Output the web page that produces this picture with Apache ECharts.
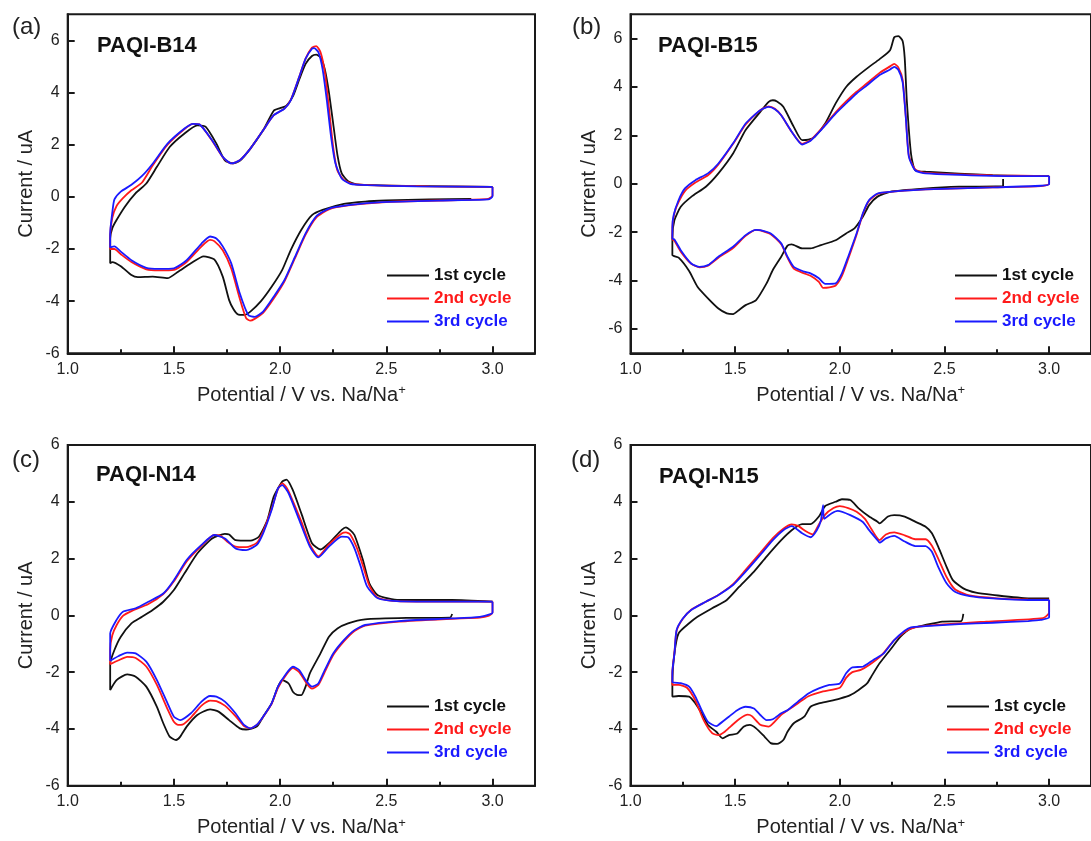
<!DOCTYPE html>
<html>
<head>
<meta charset="utf-8">
<script src="https://cdn.jsdelivr.net/npm/echarts@6/dist/echarts.min.js"></script>
<style>
  html, body { margin: 0; padding: 0; background: #fff; }
  #chart { width: 1091px; height: 841px; }
</style>
</head>
<body>
<div id="chart"></div>
<script>
// ---- names / ticks ----
const panelLabels = ['(a)', '(b)', '(c)', '(d)']
const sampleNames = ['PAQI-B14', 'PAQI-B15', 'PAQI-N14', 'PAQI-N15']
const cycleNames = ['1st cycle', '2nd cycle', '3rd cycle']
const xMajorTicks = [1.0, 1.5, 2.0, 2.5, 3.0]
const xMinorTicks = [1.25, 1.75, 2.25, 2.75]
const yTicks = [-6, -4, -2, 0, 2, 4, 6]

// ---- (a) PAQI-B14, [potential V, current uA] ----
const b14Cycle1 = [
  [2.90,-0.08],[2.70,-0.10],[2.50,-0.14],[2.40,-0.18],[2.30,-0.27],[2.20,-0.50],[2.15,-0.70],[2.10,-1.26],
  [2.05,-2.04],[2.01,-2.80],[1.96,-3.45],[1.91,-4.00],[1.86,-4.40],[1.83,-4.53],[1.80,-4.50],[1.78,-4.30],
  [1.76,-3.96],[1.73,-3.06],[1.69,-2.40],[1.64,-2.28],[1.58,-2.55],[1.52,-2.87],[1.47,-3.12],[1.40,-3.06],
  [1.33,-3.08],[1.30,-3.00],[1.25,-2.66],[1.21,-2.50],[1.20,-2.55],
  [1.20,-1.60],[1.21,-1.20],[1.23,-0.89],[1.27,-0.37],[1.32,0.14],[1.37,0.51],[1.42,1.15],[1.48,1.91],
  [1.55,2.43],[1.61,2.74],[1.65,2.68],[1.70,2.04],[1.74,1.40],[1.78,1.28],[1.81,1.38],[1.86,1.85],
  [1.92,2.55],[1.97,3.30],[2.00,3.40],[2.03,3.50],[2.06,3.85],[2.09,4.50],[2.12,5.10],[2.15,5.40],
  [2.17,5.45],[2.19,5.35],[2.21,4.90],[2.23,4.00],[2.25,2.80],[2.27,1.60],[2.29,0.90],[2.32,0.60],
  [2.36,0.48],[2.60,0.42],[3.00,0.38]
]
const b14Cycle2 = [
  [3.00,0.38],[3.00,0.05],[2.98,-0.08],[2.80,-0.13],[2.60,-0.17],[2.48,-0.21],[2.32,-0.33],[2.23,-0.48],
  [2.17,-0.80],[2.12,-1.45],[2.07,-2.35],[2.02,-3.25],[1.97,-3.90],[1.92,-4.45],[1.88,-4.68],[1.86,-4.75],
  [1.84,-4.65],[1.81,-3.90],[1.77,-2.75],[1.73,-2.05],[1.69,-1.70],[1.67,-1.65],[1.63,-1.90],[1.56,-2.50],
  [1.50,-2.80],[1.43,-2.82],[1.37,-2.78],[1.30,-2.50],[1.25,-2.20],[1.22,-2.00],[1.20,-2.00],
  [1.20,-1.50],[1.21,-0.80],[1.23,-0.35],[1.26,-0.05],[1.30,0.25],[1.35,0.55],[1.40,1.20],[1.47,2.00],
  [1.55,2.60],[1.59,2.80],[1.62,2.78],[1.68,2.15],[1.73,1.52],[1.77,1.28],[1.81,1.40],[1.86,1.85],
  [1.92,2.55],[1.97,3.13],[2.02,3.38],[2.05,3.72],[2.09,4.60],[2.12,5.30],[2.15,5.72],[2.17,5.78],
  [2.19,5.55],[2.21,4.80],[2.23,3.40],[2.25,1.90],[2.27,1.00],[2.30,0.65],[2.34,0.50],[2.45,0.44],
  [2.70,0.40],[3.00,0.38]
]
const b14Cycle3 = [
  [3.00,0.38],[3.00,0.02],[2.98,-0.10],[2.81,-0.13],[2.48,-0.20],[2.32,-0.32],[2.23,-0.45],[2.17,-0.75],
  [2.12,-1.40],[2.07,-2.30],[2.02,-3.20],[1.97,-3.83],[1.92,-4.40],[1.88,-4.60],[1.85,-4.53],[1.81,-3.70],
  [1.77,-2.55],[1.73,-1.90],[1.70,-1.60],[1.67,-1.52],[1.63,-1.79],[1.56,-2.43],[1.50,-2.74],[1.43,-2.76],
  [1.37,-2.72],[1.30,-2.43],[1.25,-2.10],[1.22,-1.90],[1.20,-1.94],
  [1.20,-1.40],[1.21,-0.60],[1.22,-0.10],[1.25,0.20],[1.30,0.46],[1.35,0.80],[1.40,1.27],[1.47,2.04],
  [1.55,2.62],[1.59,2.80],[1.62,2.78],[1.68,2.17],[1.73,1.53],[1.77,1.28],[1.81,1.40],[1.86,1.85],
  [1.92,2.55],[1.97,3.13],[2.02,3.38],[2.05,3.70],[2.09,4.60],[2.12,5.30],[2.15,5.68],[2.16,5.70],
  [2.18,5.55],[2.20,4.90],[2.22,3.70],[2.24,2.30],[2.26,1.30],[2.29,0.70],[2.33,0.50],[2.41,0.45],
  [2.64,0.40],[3.00,0.38]
]

// ---- (b) PAQI-B15 ----
const b15Cycle1 = [
  [2.78,0.20],[2.78,-0.10],[2.57,-0.12],[2.40,-0.20],[2.24,-0.33],[2.18,-0.53],[2.14,-0.88],[2.11,-1.36],
  [2.07,-1.84],[2.03,-2.05],[1.98,-2.33],[1.91,-2.53],[1.86,-2.67],[1.82,-2.67],[1.77,-2.50],[1.75,-2.55],
  [1.72,-3.01],[1.68,-3.56],[1.65,-4.11],[1.60,-4.80],[1.55,-5.01],[1.52,-5.20],[1.49,-5.38],[1.46,-5.35],
  [1.42,-5.15],[1.37,-4.73],[1.32,-4.25],[1.28,-3.60],[1.23,-3.05],[1.20,-2.94],
  [1.20,-2.20],[1.21,-1.50],[1.24,-0.95],[1.29,-0.54],[1.36,-0.12],[1.42,0.43],[1.49,1.25],[1.55,2.22],
  [1.62,2.97],[1.66,3.38],[1.68,3.45],[1.70,3.40],[1.73,3.18],[1.78,2.35],[1.82,1.80],[1.85,1.82],
  [1.88,1.94],[1.93,2.49],[1.98,3.32],[2.03,4.00],[2.08,4.42],[2.14,4.83],[2.19,5.15],[2.24,5.52],
  [2.26,6.05],[2.28,6.10],[2.30,5.90],[2.31,5.20],[2.32,3.45],[2.34,1.25],[2.36,0.56],[2.41,0.50],
  [2.73,0.36],[3.00,0.32]
]
const b15Cycle2 = [
  [3.00,0.32],[3.00,0.00],[2.96,-0.10],[2.73,-0.15],[2.41,-0.23],[2.24,-0.33],[2.18,-0.42],[2.14,-0.70],
  [2.11,-1.25],[2.08,-2.10],[2.04,-3.10],[2.01,-3.80],[1.98,-4.20],[1.95,-4.28],[1.92,-4.30],[1.90,-4.05],
  [1.86,-3.80],[1.83,-3.70],[1.78,-3.50],[1.75,-3.05],[1.72,-2.50],[1.67,-2.08],[1.62,-1.92],[1.60,-1.90],
  [1.55,-2.15],[1.49,-2.65],[1.42,-3.05],[1.37,-3.38],[1.33,-3.45],[1.29,-3.30],[1.24,-2.80],[1.21,-2.35],
  [1.20,-2.30],
  [1.20,-1.80],[1.21,-1.20],[1.23,-0.75],[1.26,-0.30],[1.31,0.05],[1.37,0.35],[1.42,0.80],[1.49,1.65],
  [1.55,2.45],[1.62,3.04],[1.66,3.20],[1.69,3.10],[1.72,2.83],[1.77,2.15],[1.82,1.65],[1.86,1.80],
  [1.91,2.25],[1.98,2.95],[2.03,3.40],[2.08,3.80],[2.13,4.15],[2.19,4.58],[2.24,4.85],[2.26,4.95],
  [2.28,4.80],[2.30,4.30],[2.315,2.80],[2.33,1.15],[2.36,0.60],[2.41,0.45],[2.73,0.35],[3.00,0.32]
]
const b15Cycle3 = [
  [3.00,0.32],[3.00,-0.02],[2.96,-0.08],[2.73,-0.15],[2.41,-0.23],[2.24,-0.33],[2.18,-0.40],[2.14,-0.67],
  [2.11,-1.22],[2.08,-2.05],[2.04,-3.01],[2.01,-3.70],[1.98,-4.11],[1.93,-4.13],[1.90,-3.90],[1.86,-3.70],
  [1.83,-3.63],[1.78,-3.43],[1.75,-3.01],[1.72,-2.46],[1.67,-2.05],[1.62,-1.91],[1.60,-1.90],[1.55,-2.12],
  [1.49,-2.60],[1.42,-3.01],[1.37,-3.36],[1.33,-3.43],[1.29,-3.29],[1.24,-2.74],[1.21,-2.30],[1.20,-2.26],
  [1.20,-1.80],[1.206,-1.30],[1.23,-0.67],[1.26,-0.19],[1.31,0.15],[1.37,0.43],[1.42,0.84],[1.49,1.67],
  [1.55,2.49],[1.62,3.04],[1.66,3.18],[1.69,3.08],[1.72,2.83],[1.77,2.15],[1.82,1.62],[1.86,1.78],
  [1.91,2.22],[1.98,2.90],[2.03,3.32],[2.08,3.73],[2.13,4.07],[2.19,4.49],[2.24,4.72],[2.26,4.83],
  [2.28,4.70],[2.30,4.20],[2.315,2.77],[2.33,1.11],[2.36,0.56],[2.41,0.43],[2.73,0.33],[3.00,0.32]
]

// ---- (c) PAQI-N14 ----
const n14Cycle1 = [
  [2.81,0.05],[2.80,-0.08],[2.60,-0.09],[2.40,-0.14],[2.32,-0.28],[2.27,-0.46],[2.23,-0.75],[2.19,-1.34],
  [2.14,-2.04],[2.12,-2.51],[2.10,-2.81],[2.08,-2.80],[2.06,-2.69],[2.04,-2.40],[2.01,-2.28],[1.99,-2.51],
  [1.96,-3.10],[1.92,-3.57],[1.89,-3.92],[1.84,-4.02],[1.81,-3.98],[1.76,-3.69],[1.71,-3.39],[1.67,-3.31],
  [1.61,-3.51],[1.56,-3.92],[1.53,-4.27],[1.51,-4.39],[1.48,-4.27],[1.45,-3.80],[1.42,-3.22],[1.37,-2.51],
  [1.32,-2.16],[1.28,-2.08],[1.23,-2.28],[1.20,-2.63],
  [1.20,-1.70],[1.22,-1.22],[1.25,-0.75],[1.30,-0.28],[1.35,-0.05],[1.40,0.19],[1.45,0.48],[1.50,0.89],
  [1.55,1.48],[1.61,2.18],[1.68,2.71],[1.74,2.87],[1.76,2.85],[1.79,2.65],[1.86,2.63],[1.90,2.77],
  [1.94,3.36],[1.97,4.18],[2.01,4.71],[2.03,4.78],[2.06,4.41],[2.10,3.59],[2.15,2.54],[2.19,2.32],
  [2.23,2.54],[2.29,3.01],[2.31,3.10],[2.33,3.00],[2.35,2.83],[2.39,1.95],[2.42,1.13],[2.46,0.71],
  [2.56,0.54],[2.81,0.54],[3.00,0.48]
]
const n14Cycle2 = [
  [3.00,0.48],[3.00,0.10],[2.98,-0.02],[2.94,-0.08],[2.81,-0.12],[2.56,-0.22],[2.40,-0.36],[2.35,-0.55],
  [2.30,-0.92],[2.25,-1.40],[2.21,-2.00],[2.18,-2.45],[2.15,-2.58],[2.13,-2.45],[2.09,-2.00],[2.06,-1.86],
  [2.03,-2.08],[1.99,-2.55],[1.96,-3.12],[1.92,-3.58],[1.89,-3.86],[1.86,-3.98],[1.83,-3.90],[1.79,-3.55],
  [1.74,-3.18],[1.70,-3.02],[1.67,-3.00],[1.63,-3.18],[1.58,-3.60],[1.54,-3.85],[1.52,-3.86],[1.50,-3.75],
  [1.47,-3.30],[1.42,-2.45],[1.37,-1.80],[1.32,-1.50],[1.28,-1.46],[1.24,-1.58],[1.20,-1.72],
  [1.20,-1.20],[1.21,-0.70],[1.23,-0.35],[1.26,-0.02],[1.30,0.15],[1.38,0.40],[1.45,0.75],[1.50,1.20],
  [1.56,1.90],[1.63,2.45],[1.69,2.83],[1.72,2.80],[1.75,2.60],[1.79,2.42],[1.84,2.40],[1.89,2.55],
  [1.92,2.95],[1.96,3.75],[1.99,4.45],[2.01,4.65],[2.03,4.50],[2.05,4.20],[2.10,3.30],[2.14,2.50],
  [2.18,2.08],[2.23,2.50],[2.29,2.88],[2.31,2.92],[2.33,2.85],[2.36,2.40],[2.39,1.75],[2.42,1.05],
  [2.46,0.62],[2.55,0.50],[2.81,0.48],[3.00,0.48]
]
const n14Cycle3 = [
  [3.00,0.48],[3.00,0.10],[2.99,0.04],[2.94,-0.05],[2.81,-0.11],[2.56,-0.20],[2.40,-0.34],[2.35,-0.52],
  [2.30,-0.87],[2.25,-1.34],[2.21,-1.93],[2.18,-2.40],[2.15,-2.51],[2.12,-2.28],[2.09,-1.93],[2.06,-1.81],
  [2.03,-2.04],[1.99,-2.51],[1.96,-3.10],[1.92,-3.57],[1.89,-3.86],[1.86,-3.98],[1.83,-3.86],[1.79,-3.45],
  [1.74,-3.04],[1.70,-2.86],[1.67,-2.84],[1.63,-3.04],[1.58,-3.45],[1.53,-3.69],[1.50,-3.57],[1.47,-3.10],
  [1.42,-2.28],[1.37,-1.63],[1.32,-1.34],[1.28,-1.31],[1.24,-1.43],[1.20,-1.60],
  [1.20,-1.10],[1.20,-0.64],[1.23,-0.16],[1.26,0.13],[1.32,0.25],[1.38,0.48],[1.45,0.77],[1.50,1.24],
  [1.56,1.95],[1.63,2.48],[1.69,2.83],[1.74,2.71],[1.79,2.36],[1.84,2.30],[1.89,2.48],[1.92,2.89],
  [1.96,3.71],[1.99,4.47],[2.01,4.59],[2.04,4.30],[2.09,3.36],[2.14,2.42],[2.18,2.04],[2.23,2.42],
  [2.29,2.77],[2.32,2.75],[2.35,2.36],[2.38,1.71],[2.41,1.01],[2.46,0.60],[2.55,0.50],[2.81,0.48],
  [3.00,0.48]
]

// ---- (d) PAQI-N15 ----
const n15Cycle1 = [
  [2.59,0.05],[2.58,-0.20],[2.49,-0.22],[2.41,-0.34],[2.34,-0.46],[2.29,-0.75],[2.24,-1.22],[2.19,-1.69],
  [2.15,-2.16],[2.13,-2.40],[2.09,-2.63],[2.05,-2.81],[2.00,-2.93],[1.95,-3.02],[1.90,-3.10],[1.86,-3.22],
  [1.83,-3.57],[1.78,-3.80],[1.75,-4.10],[1.73,-4.39],[1.70,-4.53],[1.67,-4.50],[1.64,-4.27],[1.60,-3.98],
  [1.57,-3.86],[1.54,-3.92],[1.51,-4.16],[1.47,-4.22],[1.44,-4.33],[1.41,-4.10],[1.37,-3.86],[1.34,-3.45],
  [1.31,-3.10],[1.28,-2.86],[1.23,-2.84],[1.20,-2.86],
  [1.20,-2.40],[1.21,-1.34],[1.23,-0.63],[1.28,-0.28],[1.32,-0.05],[1.39,0.25],[1.46,0.54],[1.52,1.01],
  [1.59,1.54],[1.65,2.07],[1.72,2.65],[1.77,3.00],[1.82,3.21],[1.86,3.21],[1.90,3.48],[1.93,3.85],
  [1.98,4.00],[2.01,4.09],[2.05,4.06],[2.09,3.77],[2.14,3.48],[2.18,3.30],[2.19,3.24],[2.23,3.48],
  [2.26,3.53],[2.31,3.48],[2.36,3.30],[2.41,3.12],[2.44,2.89],[2.47,2.42],[2.51,1.71],[2.54,1.24],
  [2.59,0.95],[2.65,0.80],[2.73,0.72],[2.90,0.60],[3.00,0.60]
]
const n15Cycle2 = [
  [3.00,0.55],[3.00,0.10],[2.97,-0.10],[2.70,-0.22],[2.40,-0.38],[2.33,-0.50],[2.26,-0.87],[2.20,-1.40],
  [2.14,-1.75],[2.10,-1.92],[2.06,-2.00],[2.03,-2.20],[2.00,-2.55],[1.92,-2.68],[1.85,-2.85],[1.78,-3.20],
  [1.72,-3.50],[1.66,-3.92],[1.62,-3.85],[1.58,-3.55],[1.56,-3.50],[1.52,-3.65],[1.48,-3.90],[1.45,-4.10],
  [1.42,-4.22],[1.39,-4.15],[1.35,-3.70],[1.31,-3.00],[1.27,-2.55],[1.23,-2.45],[1.20,-2.45],
  [1.20,-2.00],[1.21,-1.30],[1.22,-0.55],[1.25,-0.12],[1.29,0.20],[1.36,0.48],[1.42,0.72],[1.49,1.10],
  [1.55,1.60],[1.62,2.20],[1.68,2.72],[1.73,3.05],[1.77,3.20],[1.80,3.15],[1.84,2.95],[1.87,2.85],
  [1.90,3.20],[1.93,3.55],[1.97,3.78],[2.00,3.85],[2.04,3.78],[2.08,3.65],[2.12,3.40],[2.15,3.05],
  [2.19,2.65],[2.22,2.85],[2.26,2.92],[2.31,2.82],[2.36,2.68],[2.41,2.68],[2.44,2.45],[2.47,2.00],
  [2.51,1.35],[2.55,0.92],[2.62,0.70],[2.75,0.60],[2.90,0.56],[3.00,0.55]
]
const n15Cycle3 = [
  [3.00,0.54],[3.00,-0.07],[2.96,-0.16],[2.90,-0.20],[2.73,-0.26],[2.57,-0.31],[2.41,-0.38],[2.34,-0.42],
  [2.31,-0.54],[2.26,-0.87],[2.21,-1.34],[2.16,-1.57],[2.11,-1.81],[2.06,-1.83],[2.03,-2.04],[2.00,-2.40],
  [1.95,-2.45],[1.90,-2.57],[1.85,-2.75],[1.80,-3.04],[1.75,-3.34],[1.72,-3.45],[1.68,-3.66],[1.65,-3.69],
  [1.62,-3.51],[1.59,-3.28],[1.55,-3.22],[1.51,-3.34],[1.47,-3.57],[1.42,-3.86],[1.41,-3.90],[1.37,-3.75],
  [1.34,-3.34],[1.31,-2.86],[1.28,-2.51],[1.24,-2.39],[1.20,-2.35],
  [1.20,-2.00],[1.21,-1.34],[1.22,-0.52],[1.25,-0.11],[1.29,0.19],[1.36,0.48],[1.42,0.72],[1.49,1.07],
  [1.55,1.54],[1.62,2.13],[1.68,2.65],[1.73,3.00],[1.77,3.14],[1.82,2.89],[1.86,2.75],[1.89,3.00],
  [1.91,3.35],[1.92,3.88],[1.925,3.40],[1.96,3.59],[1.99,3.68],[2.05,3.53],[2.11,3.29],[2.14,3.00],
  [2.18,2.65],[2.19,2.56],[2.22,2.71],[2.26,2.80],[2.31,2.60],[2.36,2.44],[2.41,2.44],[2.44,2.24],
  [2.47,1.71],[2.51,1.13],[2.55,0.83],[2.62,0.68],[2.73,0.60],[2.90,0.54],[3.00,0.54]
]

// ---- layout (px) ----
const FONT = '"Liberation Sans", Arial, sans-serif'
const cycleColors = ['#111111', '#ff1a1a', '#1a1aff']
const panels = [
  { cycles: [b14Cycle1, b14Cycle2, b14Cycle3], yMin: -6, yMax: 7,
    grid: { left: 67.7, top: 14.3, width: 467.3, height: 339 },
    labelPos: [12, 15], namePos: [97, 35], legendPos: [387, 267] },
  { cycles: [b15Cycle1, b15Cycle2, b15Cycle3], yMin: -7, yMax: 7,
    grid: { left: 630.5, top: 14.3, width: 466.4, height: 339 },
    labelPos: [572, 15], namePos: [658, 35], legendPos: [955, 267] },
  { cycles: [n14Cycle1, n14Cycle2, n14Cycle3], yMin: -6, yMax: 6,
    grid: { left: 67.7, top: 445, width: 467.3, height: 340.7 },
    labelPos: [12, 448], namePos: [96, 464], legendPos: [387, 698] },
  { cycles: [n15Cycle1, n15Cycle2, n15Cycle3], yMin: -6, yMax: 6,
    grid: { left: 630.5, top: 445, width: 466.4, height: 340.7 },
    labelPos: [571, 448], namePos: [659, 466], legendPos: [947, 698] },
]

const AXIS_COLOR = '#1a1a1a'
const grids = [], xAxes = [], yAxes = [], series = [], legends = [], titles = []

panels.forEach((p, i) => {
  grids.push({ ...p.grid, show: true, borderColor: AXIS_COLOR, borderWidth: 2, backgroundColor: 'transparent' })

  // major x axis (labels + long ticks)
  xAxes.push({
    type: 'value', gridIndex: i, min: 1.0, max: 3.2, position: 'bottom',
    name: 'Potential / V vs. Na/Na{sup|+}', nameLocation: 'middle', nameGap: 31,
    nameTextStyle: {
      fontFamily: FONT, fontSize: 20, color: '#222', lineHeight: 22,
      rich: { sup: { fontFamily: FONT, fontSize: 13, color: '#222', verticalAlign: 'top', lineHeight: 13 } },
    },
    axisLine: { show: true, onZero: false, lineStyle: { color: AXIS_COLOR, width: 2 } },
    axisTick: { show: true, inside: true, length: 7, customValues: xMajorTicks, lineStyle: { color: AXIS_COLOR, width: 2 } },
    axisLabel: { customValues: xMajorTicks, formatter: (v) => v.toFixed(1), fontFamily: FONT, fontSize: 16, color: '#222', margin: 8 },
    splitLine: { show: false },
  })
  // minor x ticks
  xAxes.push({
    type: 'value', gridIndex: i, min: 1.0, max: 3.2, position: 'bottom',
    axisLine: { show: false, onZero: false },
    axisTick: { show: true, inside: true, length: 4, customValues: xMinorTicks, lineStyle: { color: AXIS_COLOR, width: 2 } },
    axisLabel: { show: false },
    splitLine: { show: false },
  })
  yAxes.push({
    type: 'value', gridIndex: i, min: p.yMin, max: p.yMax, position: 'left',
    name: 'Current / uA', nameLocation: 'middle', nameGap: 31,
    nameTextStyle: { fontFamily: FONT, fontSize: 20, color: '#222' },
    axisLine: { show: true, onZero: false, lineStyle: { color: AXIS_COLOR, width: 2 } },
    axisTick: { show: true, inside: true, length: 7, customValues: yTicks, lineStyle: { color: AXIS_COLOR, width: 2 } },
    axisLabel: { customValues: yTicks, fontFamily: FONT, fontSize: 16, color: '#222', margin: 8 },
    splitLine: { show: false },
  })

  p.cycles.forEach((data, c) => {
    series.push({
      name: cycleNames[c], type: 'line', xAxisIndex: i * 2, yAxisIndex: i,
      data, symbol: 'none', smooth: 0.2, color: cycleColors[c],
      lineStyle: { color: cycleColors[c], width: 1.8 },
      z: 2 + c, animation: false,
    })
  })

  legends.push({
    orient: 'vertical', left: p.legendPos[0], top: p.legendPos[1], padding: 0,
    icon: 'rect', itemWidth: 42, itemHeight: 2, itemGap: 6, selectedMode: false,
    textStyle: { fontFamily: FONT, fontSize: 17, fontWeight: 'bold' },
    data: cycleNames.map((n, c) => ({ name: n, textStyle: { color: cycleColors[c] } })),
  })

  titles.push({
    text: panelLabels[i], left: p.labelPos[0], top: p.labelPos[1], padding: 0,
    textStyle: { fontFamily: FONT, fontSize: 24, fontWeight: 'normal', color: '#222' },
  })
  titles.push({
    text: sampleNames[i], left: p.namePos[0], top: p.namePos[1], padding: 0,
    textStyle: { fontFamily: FONT, fontSize: 22, fontWeight: 'bold', color: '#111' },
  })
})

const chart = echarts.init(document.getElementById('chart'))
chart.setOption({
  backgroundColor: '#fff',
  animation: false,
  title: titles,
  legend: legends,
  grid: grids,
  xAxis: xAxes,
  yAxis: yAxes,
  series,
})
</script>
</body>
</html>
